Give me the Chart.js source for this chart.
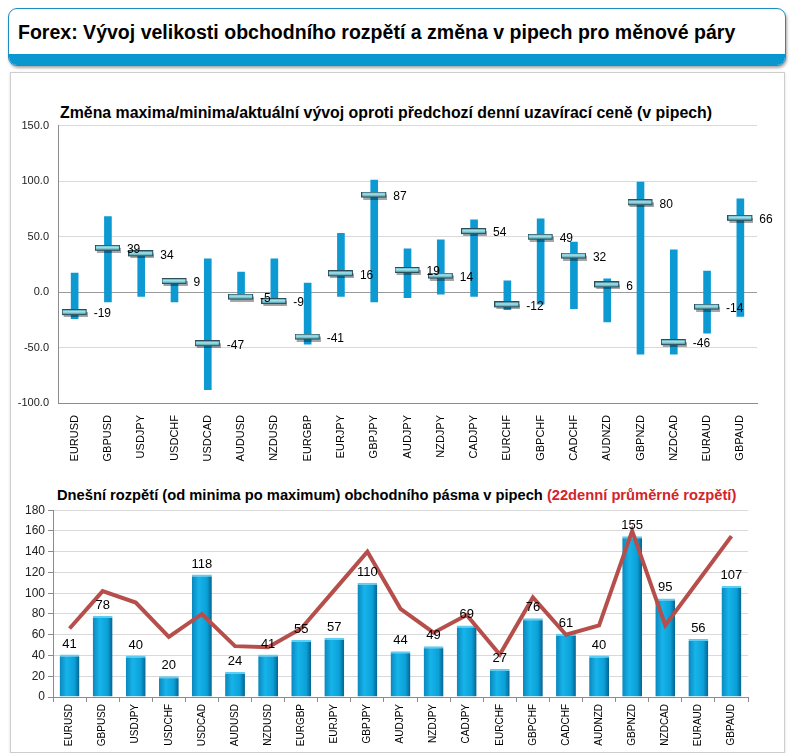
<!DOCTYPE html>
<html>
<head>
<meta charset="utf-8">
<script src="https://cdn.jsdelivr.net/npm/chart.js@4.4.1/dist/chart.umd.min.js"></script>
<style>
  body { margin: 0; width: 794px; height: 753px; background: #fff; position: relative; overflow: hidden;
         font-family: "Liberation Sans", Arial, sans-serif; }
  .head { position: absolute; left: 8px; top: 8px; width: 776px; height: 56px; border: 1.5px solid #1d8cc2;
          border-radius: 9px; overflow: hidden; background: #fff; box-shadow: 1px 2px 3px rgba(0,0,0,.35); }
  .head .band { position: absolute; left: 0; right: 0; bottom: 0; height: 11px; background: #0897cf; }
  .panel { position: absolute; left: 10px; top: 72px; width: 773px; height: 679px; border: 1px solid #cdcdcd;
           box-shadow: 0 1px 3px rgba(0,0,0,.12); }
  .ttl { position: absolute; margin: 0; white-space: nowrap; font-weight: bold; line-height: 1; color: #000;
         transform-origin: 0 0; }
  .red { color: #d2242a; }
  canvas { position: absolute; }
</style>
</head>
<body>
<div class="head"><div class="band"></div></div>
<div class="panel"></div>
<div class="ttl" id="t0" data-w="717" style="left:18px; top:23px; font-size:19.5px;">Forex: Vývoj velikosti obchodního rozpětí a změna v pipech pro měnové páry</div>
<div class="ttl" id="t1" data-w="652" style="left:60px; top:105px; font-size:16px;">Změna maxima/minima/aktuální vývoj oproti předchozí denní uzavírací ceně (v pipech)</div>
<div class="ttl" id="t2" data-w="679" style="left:57px; top:488px; font-size:14.5px;">Dnešní rozpětí (od minima po maximum) obchodního pásma v pipech <span class="red">(22denní průměrné rozpětí)</span></div>

<div style="position:absolute;left:0;top:110px;width:794px;height:360px"><canvas id="topChart"></canvas></div>
<div style="position:absolute;left:0;top:500px;width:794px;height:250px"><canvas id="bottomChart"></canvas></div>

<script>
const pairs = ['EURUSD', 'GBPUSD', 'USDJPY', 'USDCHF', 'USDCAD', 'AUDUSD', 'NZDUSD', 'EURGBP', 'EURJPY', 'GBPJPY',
  'AUDJPY', 'NZDJPY', 'CADJPY', 'EURCHF', 'GBPCHF', 'CADCHF', 'AUDNZD', 'GBPNZD', 'NZDCAD', 'EURAUD', 'GBPAUD'];

// top chart: change vs previous close (pips)
const dayHigh = [17, 68, 35, 10, 30, 18, 30, 8, 53, 101, 39, 47, 65, 10, 66, 45, 12, 99, 38, 19, 84];
const dayLow = [-24, -9, -4, -9, -88, -6, -10, -47, -4, -9, -5, -2, -4, -16, -11, -15, -27, -56, -56, -37, -22];
const current = [-19, 39, 34, 9, -47, -5, -9, -41, 16, 87, 19, 14, 54, -12, 49, 32, 6, 80, -46, -14, 66];
const topTicks = [-100, -50, 0, 50, 100, 150];

// bottom chart: today's range and 22-day average range
const todayRange = [41, 78, 40, 20, 118, 24, 41, 55, 57, 110, 44, 49, 69, 27, 76, 61, 40, 155, 95, 56, 107];
const avgRange22 = [66, 102, 91, 58, 80, 49, 48, 66, 103, 140, 85, 62, 79, 41, 96, 60, 69, 160, 69, 112, 155];
const bottomTicks = [0, 20, 40, 60, 80, 100, 120, 140, 160, 180];

// squeeze titles to the width they have in the picture
document.querySelectorAll('.ttl').forEach(el => {
  const w = +el.dataset.w;
  el.style.transform = 'scaleX(' + (w / el.scrollWidth) + ')';
});

const FONT = '"Liberation Sans", Arial, sans-serif';
Chart.defaults.font.family = FONT;
Chart.defaults.color = '#000';
Chart.defaults.animation = false;

// horizontal marker for the current value
function makeMarker() {
  const c = document.createElement('canvas');
  c.width = 26; c.height = 8;
  const g = c.getContext('2d');
  g.fillStyle = 'rgba(0,0,0,0.35)';
  g.fillRect(2, 3, 24, 5);
  const grd = g.createLinearGradient(0, 0, 0, 6);
  grd.addColorStop(0, '#4b9fb0');
  grd.addColorStop(0.45, '#a6e8f2');
  grd.addColorStop(1, '#2a7888');
  g.fillStyle = grd;
  g.fillRect(0.5, 0.5, 24, 5);
  g.strokeStyle = '#2a4f5a';
  g.lineWidth = 1;
  g.strokeRect(0.5, 0.5, 24, 5);
  return c;
}

const valueLabels = {
  id: 'valueLabels',
  afterDatasetsDraw(chart, args, opts) {
    const ctx = chart.ctx;
    const ds = chart.data.datasets[opts.dataset];
    const meta = chart.getDatasetMeta(opts.dataset);
    ctx.save();
    ctx.font = opts.font;
    ctx.fillStyle = '#000';
    meta.data.forEach((el, i) => {
      const v = ds.data[i];
      if (opts.side === 'right') {
        ctx.textAlign = 'left';
        ctx.textBaseline = 'middle';
        ctx.fillText(v, el.x + 19, el.y + 1);
      } else {
        ctx.textAlign = 'center';
        ctx.textBaseline = 'bottom';
        ctx.fillText(v, el.x, el.y - 4);
      }
    });
    ctx.restore();
  }
};

new Chart(document.getElementById('topChart'), {
  data: {
    labels: pairs,
    datasets: [{
      type: 'line',
      label: 'Aktuální',
      data: current,
      showLine: false,
      pointStyle: makeMarker(),
      order: 0
    }, {
      type: 'bar',
      label: 'Min/Max',
      data: pairs.map((p, i) => [dayLow[i], dayHigh[i]]),
      backgroundColor: '#0d9ad3',
      barThickness: 7,
      order: 1
    }]
  },
  options: {
    responsive: true,
    maintainAspectRatio: false,
    layout: { padding: { top: 12, right: 37, left: 0, bottom: 0 } },
    plugins: {
      legend: { display: false },
      tooltip: { enabled: false },
      valueLabels: { dataset: 0, side: 'right', font: '12px ' + FONT }
    },
    scales: {
      x: {
        grid: { display: false },
        border: { color: '#8c8c8c' },
        ticks: { maxRotation: 90, minRotation: 90, autoSkip: false, padding: 4, font: { size: 11 }, color: '#000' },
        afterFit: s => { s.height = 67; }
      },
      y: {
        min: -100, max: 150,
        afterBuildTicks: s => { s.ticks = topTicks.map(v => ({ value: v })); },
        ticks: { callback: v => v.toFixed(1), padding: 9, font: { size: 11 }, color: '#222' },
        grid: { color: c => c.tick.value === 0 ? '#9a9a9a' : '#d9d9d9', drawTicks: false },
        border: { color: '#8c8c8c' },
        afterFit: s => { s.width = 58; }
      }
    }
  },
  plugins: [valueLabels]
});

new Chart(document.getElementById('bottomChart'), {
  data: {
    labels: pairs,
    datasets: [{
      type: 'line',
      label: '22denní průměrné rozpětí',
      data: avgRange22,
      borderColor: '#b64f4b',
      borderWidth: 4,
      pointRadius: 0,
      tension: 0,
      order: 0
    }, {
      type: 'bar',
      label: 'Dnešní rozpětí',
      data: todayRange,
      backgroundColor: c => {
        const chart = c.chart;
        if (!chart.chartArea) return '#0aa0d8';
        const x = chart.scales.x.getPixelForValue(c.dataIndex);
        const g = chart.ctx.createLinearGradient(x - 10, 0, x + 10, 0);
        g.addColorStop(0, '#0a86bc');
        g.addColorStop(0.35, '#16b4ea');
        g.addColorStop(0.75, '#0ba0d8');
        g.addColorStop(1, '#06618c');
        return g;
      },
      borderColor: '#5fcdf0',
      borderWidth: { top: 2, left: 0, right: 0, bottom: 0 },
      barPercentage: 0.6,
      categoryPercentage: 1,
      order: 1
    }]
  },
  options: {
    responsive: true,
    maintainAspectRatio: false,
    layout: { padding: { top: 6, right: 46, left: 0, bottom: 0 } },
    plugins: {
      legend: { display: false },
      tooltip: { enabled: false },
      valueLabels: { dataset: 1, side: 'top', font: '13px ' + FONT }
    },
    scales: {
      x: {
        grid: { drawOnChartArea: false, tickLength: 5, color: '#8c8c8c' },
        border: { color: '#8c8c8c' },
        ticks: { maxRotation: 90, minRotation: 90, autoSkip: false, padding: 2, font: { size: 10 }, color: '#000' },
        afterFit: s => { s.height = 53; }
      },
      y: {
        min: 0, max: 180,
        afterBuildTicks: s => { s.ticks = bottomTicks.map(v => ({ value: v })); },
        ticks: { padding: 3, font: { size: 12 }, color: '#222' },
        grid: { color: '#d9d9d9', tickLength: 5, tickColor: '#8c8c8c' },
        border: { color: '#8c8c8c' },
        afterFit: s => { s.width = 53; }
      }
    }
  },
  plugins: [valueLabels]
});
</script>
</body>
</html>
